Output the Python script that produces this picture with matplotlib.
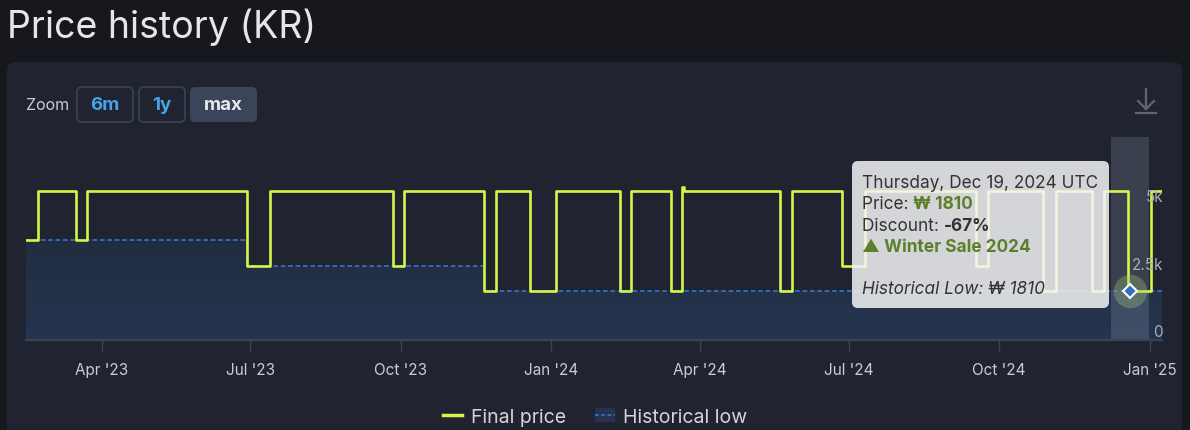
import numpy as np
import pandas as pd
import matplotlib
matplotlib.use('Agg')
import matplotlib.pyplot as plt
import matplotlib.dates as mdates
import matplotlib.transforms as mtransforms
from matplotlib.patches import FancyBboxPatch, Patch
from matplotlib.lines import Line2D

plt.rcParams['font.family'] = ['Inter', 'DejaVu Sans']

# data (KRW)
price_dates = ['2023-02-14', '2023-02-21', '2023-03-16', '2023-03-23', '2023-06-29', '2023-07-13',
               '2023-09-26', '2023-10-03', '2023-11-21', '2023-11-28', '2023-12-19', '2024-01-04',
               '2024-02-12', '2024-02-19', '2024-03-14', '2024-03-21', '2024-03-22', '2024-05-20',
               '2024-05-27', '2024-06-27', '2024-07-11', '2024-09-17', '2024-09-24', '2024-10-28',
               '2024-11-05', '2024-11-27', '2024-12-04', '2024-12-19', '2025-01-02', '2025-01-09']
price_values = [3680, 5500, 3680, 5500, 2750, 5500,
                2750, 5500, 1810, 5500, 1810, 5500,
                1810, 5500, 1810, 5640, 5500, 1810,
                5500, 2750, 5500, 2750, 5500, 1810,
                5500, 1810, 5500, 1810, 5500, 5500]
low_dates = ['2023-02-14', '2023-06-29', '2023-11-21', '2025-01-09']
low_values = [3680, 2750, 1810, 1810]
ytick_values = [0, 2500, 5000]
ytick_labels = ['0', '2.5k', '5k']
hover_date = '2024-12-19'
hover_low = 1810

W, H = 1190, 431
BG = '#17181d'
PANEL = '#1f2430'
LIME = '#d4f54a'
BLUE = '#2f6cb3'

fig = plt.figure(figsize=(W / 100, H / 100), dpi=100, facecolor=BG)

def fx(x):
    return x / W

def fy(y):
    return 1 - y / H

def box(x0, y0, x1, y1, r, **kw):
    p = FancyBboxPatch((x0 / 100, (H - y1) / 100), (x1 - x0) / 100, (y1 - y0) / 100,
                       boxstyle='round,pad=0,rounding_size=%f' % (r / 100),
                       transform=fig.dpi_scale_trans, **kw)
    fig.add_artist(p)
    return p

# panel
box(7, 63, 1182, 470, 9, facecolor=PANEL, edgecolor='none', zorder=-5)

fig.text(fx(7), fy(27), 'Price history (KR)', color='#e4e6ea', fontsize=27, va='center', ha='left')

# zoom buttons
fig.text(fx(26), fy(105), 'Zoom', color='#c9ccd2', fontsize=11.5, va='center', ha='left')
box(77, 88, 133, 123, 5, facecolor='none', edgecolor='#3a4356', lw=1.2)
box(139, 88, 185, 123, 5, facecolor='none', edgecolor='#3a4356', lw=1.2)
box(190, 88, 257, 123, 5, facecolor='#3a4559', edgecolor='none')
fig.text(fx(105), fy(105), '6m', color='#47a3e3', fontsize=13.5, fontweight='bold', va='center', ha='center')
fig.text(fx(162), fy(105), '1y', color='#47a3e3', fontsize=13.5, fontweight='bold', va='center', ha='center')
fig.text(fx(223.5), fy(105), 'max', color='#e6e8ec', fontsize=13.5, fontweight='bold', va='center', ha='center')

# download icon
ic = '#5f6572'
fig.add_artist(Line2D([fx(1146), fx(1146)], [fy(90), fy(110)], color=ic, lw=1.6))
fig.add_artist(Line2D([fx(1138), fx(1146), fx(1154)], [fy(102), fy(110), fy(102)], color=ic, lw=1.6))
fig.add_artist(Line2D([fx(1136), fx(1156)], [fy(114), fy(114)], color=ic, lw=1.6))

# chart
pd_price = mdates.date2num(pd.to_datetime(price_dates))
pd_low = mdates.date2num(pd.to_datetime(low_dates))
hx = mdates.date2num(pd.Timestamp(hover_date))

ax = fig.add_axes([fx(26), fy(341), (1162 - 26) / W, (341 - 138) / H])
ax.set_facecolor('none')
x0 = mdates.date2num(pd.Timestamp('2023-04-01')) - 46.3
x1 = mdates.date2num(pd.Timestamp('2025-01-01')) + 7.6
ymax = 7500

# gradient area under historical low
poly = ax.fill_between(pd_low, low_values, step='post', color='none', lw=0)
t = np.linspace(0, 1, 256)[:, None, None]
c_bot = np.array([37, 53, 80]) / 255
c_top = np.array([31, 36, 47]) / 255
img = c_bot * (1 - t) + c_top * t
im = ax.imshow(img, extent=[x0, x1, 0, ymax], origin='lower', aspect='auto', zorder=1)
im.set_clip_path(poly.get_paths()[0], transform=ax.transData)

# hover band
ax.axvspan(hx + 1 - 11.4, hx + 1 + 11.4, color='#cdd5e6', alpha=0.16, lw=0, zorder=1.5)

ax.plot(pd_price, price_values, drawstyle='steps-post', color=LIME, lw=1.9, zorder=3)
ax.plot(pd_low, low_values, drawstyle='steps-post', color=BLUE, lw=1.4,
        linestyle=(0, (2.4, 1.4)), zorder=2.5)

ax.plot([hx + 1], [hover_low], marker='o', ms=24, color='#9fc27a', alpha=0.35, mew=0, zorder=4)
ax.plot([hx + 1], [hover_low], marker='D', ms=7, mfc='#2f6fc4', mec='white', mew=1.5, zorder=5)

ax.set_xlim(x0, x1)
ax.set_ylim(0, ymax)
for s in ['top', 'left', 'right']:
    ax.spines[s].set_visible(False)
ax.spines['bottom'].set_color('#3a4357')
ax.spines['bottom'].set_linewidth(1.6)
ax.xaxis.set_major_locator(mdates.MonthLocator(bymonth=[1, 4, 7, 10]))
ax.xaxis.set_major_formatter(mdates.DateFormatter("%b '%y"))
ax.tick_params(axis='x', colors='#3a4357', length=8, width=1, pad=8, labelcolor='#c9ccd2', labelsize=11)
ax.set_yticks([])

ylab_tr = mtransforms.offset_copy(ax.get_yaxis_transform(), fig=fig, x=1, y=8, units='dots')
for v, lab in zip(ytick_values, ytick_labels):
    ax.text(1.0, v, lab, transform=ylab_tr, ha='right', va='center', color='#a9adb4', fontsize=11, zorder=6)

# tooltip
box(852, 162, 1109, 309, 6, facecolor='#f4f5f7', alpha=0.85, edgecolor='none', zorder=8)
tc = '#333333'
green = '#5d7f2c'
fs = 12.4
fig.text(fx(862), fy(183), 'Thursday, Dec 19, 2024 UTC', color=tc, fontsize=fs, va='center', zorder=9)
t1 = fig.text(fx(862), fy(205), 'Price: ', color=tc, fontsize=fs, va='center', zorder=9)
fig.add_artist(plt.Annotation('\u20a9 1810', xy=(1, 0.5), xycoords=t1, va='center', color=green,
                              fontsize=fs, fontweight='bold', zorder=9))
t2 = fig.text(fx(862), fy(227), 'Discount: ', color=tc, fontsize=fs, va='center', zorder=9)
fig.add_artist(plt.Annotation('-67%', xy=(1, 0.5), xycoords=t2, va='center', color=tc,
                              fontsize=fs, fontweight='bold', zorder=9))
fig.text(fx(862), fy(248), '\u25b2 Winter Sale 2024', color=green, fontsize=fs, fontweight='bold',
         va='center', zorder=9)
fig.text(fx(862), fy(290), 'Historical Low: \u20a9 1810', color=tc, fontsize=fs, style='italic',
         va='center', zorder=9)

# legend
h1 = Line2D([], [], color=LIME, lw=2.5)
h2 = (Patch(facecolor='#24344e', edgecolor='none'), Line2D([], [], color=BLUE, lw=1.4, linestyle=(0, (2, 1.2))))
fig.legend([h1, h2], ['Final price', 'Historical low'], loc='center', bbox_to_anchor=(0.5, fy(418)),
           ncol=2, frameon=False, fontsize=14, labelcolor='#d4d6da', handlelength=1.0,
           handletextpad=0.45, columnspacing=1.5)

fig.savefig('out.png', dpi=100, facecolor=BG)
